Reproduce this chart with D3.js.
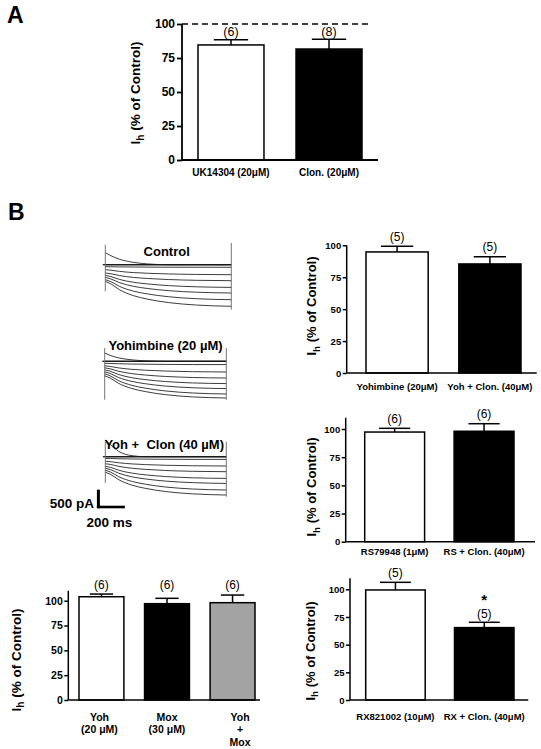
<!DOCTYPE html>
<html><head><meta charset="utf-8">
<script src="https://cdn.jsdelivr.net/npm/d3@7"></script>
<style>
body{margin:0;background:#fff;}
svg{display:block;font-family:"Liberation Sans",Arial,Helvetica,sans-serif;}
</style></head><body>
<svg id="fig" width="541" height="749"></svg>
<script>
// ================= DATA =================
const tickValues = [0, 25, 50, 75, 100];

// Panel A
const catsA = [["UK14304 (20μM)"], ["Clon. (20μM)"]];
const meanA = [84.6, 81.6];
const semA  = [3.9, 7.1];
const nA    = [6, 8];
const fillA = ["#ffffff", "#000000"];

// Panel B, top right
const catsB1 = [["Yohimbine (20μM)"], ["Yoh + Clon. (40μM)"]];
const meanB1 = [94.8, 85.4];
const semB1  = [4.4, 5.7];
const nB1    = [5, 5];

// Panel B, middle right
const catsB2 = [["RS79948 (1μM)"], ["RS + Clon. (40μM)"]];
const meanB2 = [97.3, 98.0];
const semB2  = [3.3, 6.7];
const nB2    = [6, 6];

// Panel B, bottom right
const catsB3 = [["RX821002 (10μM)"], ["RX + Clon. (40μM)"]];
const meanB3 = [99.4, 65.4];
const semB3  = [6.9, 4.8];
const nB3    = [5, 5];
const starB3 = [false, true];

// Panel B, bottom left
const catsB4 = [["Yoh", "(20 μM)"], ["Mox", "(30 μM)"], ["Yoh", "+", "Mox"]];
const meanB4 = [104, 97, 98];
const semB4  = [2.7, 5.4, 7.7];
const nB4    = [6, 6, 6];
const fillB4 = ["#ffffff", "#000000", "#a3a3a3"];

const yLabelMain = " (% of Control)";

// Current traces (pA, inward negative) sampled at these times (ms)
const sweepTimes = [0, 40, 100, 200, 300, 450, 650, 900];
const tracesControl = [
  [0, 0, 0, 0, 0, 0, 0, 0],
  [347, 260, 159, 69, 23, 0, 0, 0],
  [-58, -60, -63, -66, -70, -72, -74, -75],
  [-145, -159, -192, -227, -247, -267, -282, -289],
  [-240, -262, -313, -367, -398, -429, -451, -462],
  [-309, -344, -424, -507, -555, -604, -639, -656],
  [-367, -412, -516, -624, -687, -750, -795, -818],
  [-434, -491, -624, -763, -844, -925, -983, -1012],
  [-483, -555, -720, -893, -994, -1094, -1166, -1202]
];
const tracesYoh = [
  [0, 0, 0, 0, 0, 0, 0, 0],
  [240, 173, 101, 43, 14, 0, 0, 0],
  [-58, -62, -70, -79, -84, -90, -94, -95],
  [-130, -148, -189, -232, -257, -282, -300, -309],
  [-188, -217, -285, -356, -397, -438, -468, -483],
  [-246, -286, -377, -473, -529, -585, -625, -644],
  [-303, -352, -464, -580, -648, -716, -765, -789],
  [-361, -420, -554, -694, -776, -857, -916, -945],
  [-419, -483, -631, -785, -875, -964, -1029, -1061]
];
const tracesYohClon = [
  [0, 0, 0, 0, 0, 0, 0, 0],
  [483, 340, 154, 29, 0, 0, 0, 0],
  [-49, -52, -59, -66, -70, -74, -77, -78],
  [-130, -144, -176, -209, -229, -248, -262, -269],
  [-202, -225, -279, -334, -366, -399, -422, -434],
  [-275, -310, -391, -475, -525, -574, -610, -627],
  [-332, -376, -477, -583, -644, -706, -750, -772],
  [-390, -447, -579, -716, -796, -877, -934, -962],
  [-448, -514, -665, -824, -916, -1008, -1074, -1107]
];
// capacitive artifacts at step on / off: [max pA, min pA]
const artifactsControl = [[578, -769], [627, -1300]];
const artifactsYoh = [[384, -1110], [384, -1110]];
const artifactsYohClon = [[434, -760], [434, -1156]];
const traceTitles = ["Control", "Yohimbine (20 µM)", "Yoh +  Clon (40 µM)"];
const scaleBarPA = 500, scaleBarMS = 200;

// ================= DRAWING =================
const svg = d3.select("#fig");
const FONT = '"Liberation Sans",Arial,Helvetica,sans-serif';

svg.append("text").attr("x", 7).attr("y", 23).attr("font-size", 23).attr("font-weight", "bold").text("A");
svg.append("text").attr("x", 8).attr("y", 220).attr("font-size", 23).attr("font-weight", "bold").text("B");

function barChart(c) {
  const g = svg.append("g");
  const k = c.mean.length;
  const y = d3.scaleLinear().domain([0, 100]).range([c.y0, c.y100]);
  const x = d3.scaleBand().domain(d3.range(k)).range([c.b0, c.b1]).paddingInner(c.pad);
  const bw = x.bandwidth();

  // bars
  g.selectAll("rect.bar").data(c.mean).join("rect")
    .attr("x", (d, i) => x(i)).attr("width", bw)
    .attr("y", d => y(d)).attr("height", d => y(0) - y(d))
    .attr("fill", (d, i) => c.fill[i]).attr("stroke", "#000").attr("stroke-width", 1.5);

  // error bars
  c.mean.forEach((m, i) => {
    const cx = x(i) + bw / 2, top = y(m + c.sem[i]);
    g.append("line").attr("x1", cx).attr("x2", cx).attr("y1", y(m)).attr("y2", top)
      .attr("stroke", "#000").attr("stroke-width", 1.5);
    g.append("line").attr("x1", cx - bw * 0.26).attr("x2", cx + bw * 0.26).attr("y1", top).attr("y2", top)
      .attr("stroke", "#000").attr("stroke-width", 1.5);
    let ly = c.nFixed != null ? y(c.nFixed) : top - c.nOff;
    if (c.star && c.star[i]) {
      ly += 2;
      g.append("text").attr("x", cx).attr("y", ly - 13.5).attr("text-anchor", "middle")
        .attr("font-size", 15).attr("font-weight", "bold").text("*");
    }
    g.append("text").attr("x", cx).attr("y", ly).attr("text-anchor", "middle")
      .attr("font-size", c.nFont).text("(" + c.n[i] + ")");
    // category labels
    c.cats[i].forEach((line, j) => {
      g.append("text").attr("x", cx + (c.catDx ? c.catDx[i] : 0)).attr("y", c.y0 + c.catOff + j * c.catLH)
        .attr("text-anchor", "middle").attr("font-size", c.catFont).attr("font-weight", "bold").text(line);
    });
  });

  // y axis
  const ax = g.append("g").attr("transform", `translate(${c.ax},0)`)
    .call(d3.axisLeft(y).tickValues(tickValues).tickSize(c.tickSize).tickPadding(c.tickPad));
  ax.select(".domain").remove();
  ax.selectAll(".tick line").attr("stroke", "#000").attr("stroke-width", c.sw);
  ax.selectAll(".tick text").attr("font-size", c.tickFont).attr("font-weight", "bold")
    .attr("font-family", FONT).attr("fill", "#000");
  g.append("line").attr("x1", c.ax).attr("x2", c.ax).attr("y1", y(0)).attr("y2", y(c.yTop))
    .attr("stroke", "#000").attr("stroke-width", c.sw);
  g.append("line").attr("x1", c.ax).attr("x2", c.axEnd).attr("y1", y(0)).attr("y2", y(0))
    .attr("stroke", "#000").attr("stroke-width", c.sw);

  if (c.dash) {
    g.append("line").attr("x1", c.ax).attr("x2", c.dashEnd).attr("y1", y(100)).attr("y2", y(100))
      .attr("stroke", "#000").attr("stroke-width", 1.6).attr("stroke-dasharray", "6,4");
  }

  // y label
  const t = g.append("text").attr("transform", `translate(${c.labX},${c.labY}) rotate(-90)`)
    .attr("text-anchor", "middle").attr("font-size", c.labFont).attr("font-weight", "bold");
  t.append("tspan").text("I");
  t.append("tspan").attr("font-size", c.labFont * 0.75).attr("dy", c.labFont * 0.28).text("h");
  t.append("tspan").attr("dy", -c.labFont * 0.28).text(yLabelMain);
}

barChart({cats: catsA, mean: meanA, sem: semA, n: nA, fill: fillA,
  y0: 160, y100: 24, yTop: 100, b0: 198, b1: 362, pad: 0.327, ax: 182, axEnd: 378,
  sw: 1.8, tickSize: 5, tickPad: 2, tickFont: 12, nFont: 12.5, nOff: 3.5,
  catOff: 15.5, catLH: 12, catFont: 10, labX: 140, labY: 93, labFont: 13.5,
  dash: true, dashEnd: 370});

barChart({cats: catsB1, mean: meanB1, sem: semB1, n: nB1, fill: ["#ffffff", "#000000"],
  y0: 373, y100: 245.3, yTop: 100, b0: 366, b1: 521, pad: 0.33, ax: 346.7, axEnd: 536.7,
  sw: 1.5, tickSize: 4, tickPad: 1.5, tickFont: 9.5, nFont: 12, nOff: 5.5,
  catOff: 16.5, catLH: 12, catFont: 9.5, labX: 316, labY: 306, labFont: 13});

barChart({cats: catsB2, mean: meanB2, sem: semB2, n: nB2, fill: ["#ffffff", "#000000"],
  y0: 541.7, y100: 429, yTop: 110, b0: 364.7, b1: 514, pad: 0.33, ax: 345.7, axEnd: 535,
  sw: 1.5, tickSize: 4, tickPad: 1.5, tickFont: 9.5, nFont: 12, nOff: 5.5,
  catOff: 13.5, catLH: 12, catFont: 9.5, labX: 316, labY: 487, labFont: 13});

barChart({cats: catsB3, mean: meanB3, sem: semB3, n: nB3, fill: ["#ffffff", "#000000"], star: starB3,
  y0: 700, y100: 589.3, yTop: 110, b0: 365.7, b1: 514, pad: 0.33, ax: 350, axEnd: 528.3,
  sw: 1.5, tickSize: 4, tickPad: 1.5, tickFont: 9.5, nFont: 12, nOff: 5.8,
  catOff: 20, catLH: 12, catFont: 9.5, labX: 314.5, labY: 651, labFont: 13});

barChart({cats: catsB4, mean: meanB4, sem: semB4, n: nB4, fill: fillB4, nFixed: 111.8,
  y0: 700, y100: 600.7, yTop: 110, b0: 79, b1: 255, pad: 0.315, ax: 68.3, axEnd: 260,
  sw: 1.5, tickSize: 4, tickPad: 1.5, tickFont: 10.5, nFont: 12, nOff: 0,
  catOff: 20.5, catLH: 12.5, catFont: 10.5, catDx: [-2, 0, 7.5], labX: 20.5, labY: 660, labFont: 13.5});

// ---- current traces ----
const pxPerPA = 17.3 / 500;
const blocks = [
  {traces: tracesControl, art: artifactsControl, x0: 105.3, x1: 231.3, base: 264.7, title: traceTitles[0], tx: 166.7, ty: 256.3},
  {traces: tracesYoh, art: artifactsYoh, x0: 104.7, x1: 226.3, base: 361.3, title: traceTitles[1], tx: 165.5, ty: 349.5},
  {traces: tracesYohClon, art: artifactsYohClon, x0: 105.3, x1: 226.3, base: 456.7, title: traceTitles[2], tx: 164.2, ty: 448.5}
];
let xT0, yT0;
blocks.forEach((b, bi) => {
  const g = svg.append("g");
  const x = d3.scaleLinear().domain([0, 900]).range([b.x0, b.x1]);
  const y = d3.scaleLinear().domain([0, -500]).range([b.base, b.base + 500 * pxPerPA]);
  if (bi === 0) { xT0 = x; yT0 = y; }
  const line = d3.line().x((d, i) => x(sweepTimes[i])).y(d => y(d)).curve(d3.curveMonotoneX);
  b.traces.forEach((tr, i) => {
    g.append("path").attr("d", line(tr)).attr("fill", "none")
      .attr("stroke", "#1a1a1a").attr("stroke-width", i === 0 ? 1.5 : 0.85);
  });
  // holding marker
  g.append("line").attr("x1", x(-18)).attr("x2", x(0)).attr("y1", y(0)).attr("y2", y(0))
    .attr("stroke", "#1a1a1a").attr("stroke-width", 1.3);
  // artifacts
  [0, 900].forEach((t, j) => {
    g.append("line").attr("x1", x(t)).attr("x2", x(t)).attr("y1", y(b.art[j][0])).attr("y2", y(b.art[j][1]))
      .attr("stroke", "#666").attr("stroke-width", 0.9);
  });
  g.append("text").attr("x", b.tx).attr("y", b.ty).attr("text-anchor", "middle")
    .attr("font-size", 13).attr("font-weight", "bold").attr("xml:space", "preserve")
    .style("white-space", "pre").text(b.title);
});

// scale bar
{
  const g = svg.append("g");
  const cx = 98.4, cy = 507;
  const msW = xT0(scaleBarMS) - xT0(0);
  const paH = yT0(-scaleBarPA) - yT0(0);
  g.append("line").attr("x1", cx).attr("x2", cx).attr("y1", cy + 1.2).attr("y2", cy - paH)
    .attr("stroke", "#000").attr("stroke-width", 3);
  g.append("line").attr("x1", cx - 1.5).attr("x2", cx - 1.5 + msW).attr("y1", cy).attr("y2", cy)
    .attr("stroke", "#000").attr("stroke-width", 2.6);
  g.append("text").attr("x", 94).attr("y", 507.5).attr("text-anchor", "end")
    .attr("font-size", 13.5).attr("font-weight", "bold").text(scaleBarPA + " pA");
  g.append("text").attr("x", 109.5).attr("y", 526.5).attr("text-anchor", "middle")
    .attr("font-size", 13.5).attr("font-weight", "bold").text(scaleBarMS + " ms");
}
</script>
</body></html>
